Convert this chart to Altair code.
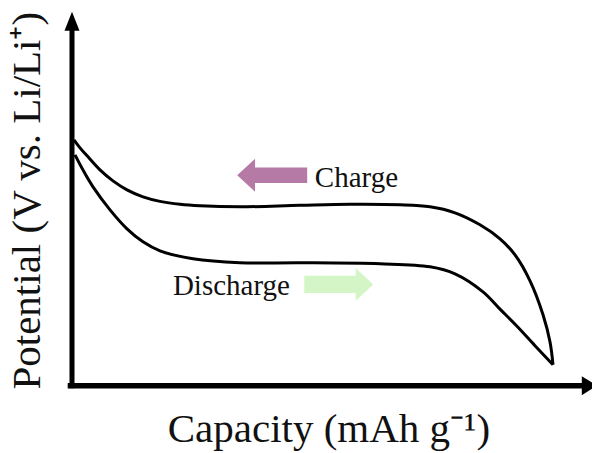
import altair as alt
import pandas as pd

# ---- data (capacity in arbitrary units 0-100, potential in arbitrary units 0-100)
charge_capacity = [0.38, 1.54, 3.08, 5.38, 7.88, 10.58, 13.65, 16.92, 20.77, 24.62, 32.31, 43.85,
                   53.46, 63.08, 68.85, 73.65, 78.46, 82.31, 85.19, 88.08, 90.58, 91.92, 92.5]
charge_potential = [65.78, 63.64, 61.23, 57.75, 54.81, 52.41, 50.53, 49.33, 48.53, 48.13, 47.86, 48.26,
                    48.53, 48.40, 47.86, 46.26, 43.05, 39.30, 35.03, 28.07, 18.98, 11.76, 5.61]

discharge_capacity = [0.58, 2.31, 4.04, 7.31, 10.58, 13.65, 16.92, 23.27, 32.31, 43.85, 59.23,
                      68.85, 73.65, 79.04, 82.31, 85.58, 89.04, 92.5]
discharge_potential = [61.76, 57.22, 53.21, 47.06, 41.98, 38.50, 36.10, 33.96, 32.89, 32.89, 32.62,
                       31.82, 29.95, 25.13, 20.5, 15.9, 10.70, 5.61]

label_text = ["Charge", "Discharge"]
label_x = [46.7, 19.4]
label_y = [53.2, 24.3]

arrow_name = ["charge", "discharge"]
arrow_x = [38.5, 51.3]
arrow_y = [56.3, 27.1]
arrow_color = ["#b57ba6", "#d4f5c5"]

x_title = "Capacity (mAh g\u207b\u00b9)"
y_title = "Potential (V vs. Li/Li\u207a)"

FONT = "Liberation Serif"

xs = alt.Scale(domain=[0, 100], nice=False, zero=False)
ys = alt.Scale(domain=[-18, 103.2], nice=False, zero=False)


def X(field="x"):
    return alt.X(f"{field}:Q", scale=xs, axis=None)


def Y(field="y"):
    return alt.Y(f"{field}:Q", scale=ys, axis=None)


charge_df = pd.DataFrame({"x": charge_capacity, "y": charge_potential})
discharge_df = pd.DataFrame({"x": discharge_capacity, "y": discharge_potential})

charge_line = alt.Chart(charge_df).mark_line(
    color="black", strokeWidth=3, interpolate="catmull-rom"
).encode(x=X(), y=Y(), order="x:Q")

discharge_line = alt.Chart(discharge_df).mark_line(
    color="black", strokeWidth=3, interpolate="catmull-rom"
).encode(x=X(), y=Y(), order="x:Q")

# axes drawn as thick rules with arrow heads
x_axis_df = pd.DataFrame({"x": [-0.3], "x2": [98.2], "y": [0.0]})
y_axis_df = pd.DataFrame({"x": [0.0], "y": [0.0], "y2": [95.0]})

x_axis = alt.Chart(x_axis_df).mark_rule(color="black", strokeWidth=5.5, strokeCap="square").encode(
    x=X(), x2="x2:Q", y=Y()
)
y_axis = alt.Chart(y_axis_df).mark_rule(color="black", strokeWidth=5, strokeCap="square").encode(
    x=X(), y=Y(), y2="y2:Q"
)

y_head = alt.Chart(pd.DataFrame({"x": [0.0], "y": [97.5]})).mark_point(
    shape="M 0 -1 L 0.79 1 L -0.79 1 Z", size=361, filled=True, color="black", opacity=1
).encode(x=X(), y=Y())

x_head = alt.Chart(pd.DataFrame({"x": [99.5], "y": [0.0]})).mark_point(
    shape="M 0.8 0 L -0.8 -1 L -0.8 1 Z", size=361, filled=True, color="black", opacity=1
).encode(x=X(), y=Y())

# direction arrows
charge_arrow = alt.Chart(pd.DataFrame({"x": [arrow_x[0]], "y": [arrow_y[0]]})).mark_point(
    shape="M -1 0 L -0.49 -0.47 L -0.49 -0.22 L 1 -0.22 L 1 0.22 L -0.49 0.22 L -0.49 0.47 Z",
    size=4900, filled=True, color=arrow_color[0], opacity=1
).encode(x=X(), y=Y())

discharge_arrow = alt.Chart(pd.DataFrame({"x": [arrow_x[1]], "y": [arrow_y[1]]})).mark_point(
    shape="M 1 0 L 0.49 -0.475 L 0.49 -0.25 L -1 -0.25 L -1 0.25 L 0.49 0.25 L 0.49 0.475 Z",
    size=4760, filled=True, color=arrow_color[1], opacity=1
).encode(x=X(), y=Y())

labels = alt.Chart(pd.DataFrame({"t": label_text, "x": label_x, "y": label_y})).mark_text(
    font=FONT, fontSize=29, align="left", baseline="alphabetic", color="#111111"
).encode(x=X(), y=Y(), text="t:N")

xtitle = alt.Chart(pd.DataFrame({"t": [x_title], "x": [49.4], "y": [-15.0]})).mark_text(
    font=FONT, fontSize=41, align="center", baseline="alphabetic", color="#111111"
).encode(x=X(), y=Y(), text="t:N")

ytitle = alt.Chart(pd.DataFrame({"t": [y_title], "x": [-6.15], "y": [49.5]})).mark_text(
    font=FONT, fontSize=41, align="center", baseline="alphabetic", angle=270, color="#111111"
).encode(x=X(), y=Y(), text="t:N")

chart = alt.layer(
    charge_arrow, discharge_arrow, charge_line, discharge_line,
    x_axis, y_axis, x_head, y_head, labels, xtitle, ytitle
).properties(
    width=520, height=453,
    autosize=alt.AutoSizeParams(type="none"),
    padding={"left": 72, "top": 0, "right": 0, "bottom": 0},
).configure_view(stroke=None)

chart.save("out.html", embed_options={"renderer": "svg", "actions": False})
